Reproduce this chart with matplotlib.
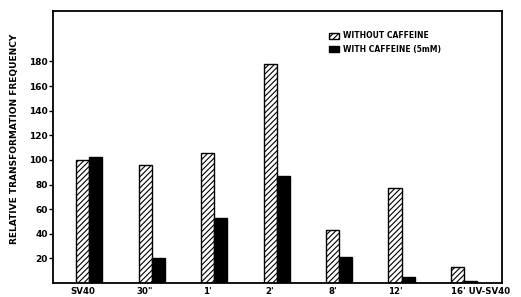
import numpy as np
import matplotlib
matplotlib.use("Agg")
import matplotlib.pyplot as plt

# Werte
groups = ['SV40', '30"', "1'", "2'", "8'", "12'", "16' UV-SV40"]
without_caffeine = [100, 96, 106, 178, 43, 77, 13]
with_caffeine = [102, 20, 53, 87, 21, 5, 1.5]
yticks = [20, 40, 60, 80, 100, 120, 140, 160, 180]

plt.rcParams['hatch.linewidth'] = 0.8
plt.rcParams['font.family'] = 'DejaVu Sans'

fig = plt.figure(figsize=(5.21, 2.97), dpi=100)
ax = fig.add_axes([0.102, 0.047, 0.862, 0.916])

x = np.arange(len(groups))
w = 0.21
ax.bar(x - w / 2, without_caffeine, w, facecolor='white', edgecolor='black',
       hatch='//////', linewidth=1.0, label='WITHOUT CAFFEINE')
ax.bar(x + w / 2, with_caffeine, w, facecolor='black', edgecolor='black',
       linewidth=1.0, label='WITH CAFFEINE (5mM)')

ax.set_xlim(-0.576, 6.61)
ax.set_ylim(0, 221)
ax.set_yticks(yticks)
ax.set_yticklabels([str(v) for v in yticks], fontsize=6.5, fontweight='bold')
ax.tick_params(axis='y', length=3, width=1, pad=1)
ax.set_xticks([])

# Beschriftungen der Gruppen
for i, g in enumerate(groups):
    if i == len(groups) - 1:
        xpos, ha = i - w, 'left'
    else:
        xpos, ha = i - w / 2, 'center'
    ax.annotate(g, xy=(xpos, 0), xycoords=('data', 'axes fraction'),
                xytext=(0, -6), textcoords='offset points',
                ha=ha, va='center', fontsize=6.2, fontweight='bold')

ax.set_ylabel('RELATIVE TRANSFORMATION FREQUENCY', fontsize=6.5,
              fontweight='bold')
ax.yaxis.set_label_coords(-0.077, 0.53)

for s in ax.spines.values():
    s.set_linewidth(1.3)

leg = ax.legend(loc='upper left', bbox_to_anchor=(0.6, 0.95), frameon=False,
                fontsize=5.5, handlelength=1.2, handleheight=0.8,
                labelspacing=0.6, handletextpad=0.6)
for t in leg.get_texts():
    t.set_fontweight('bold')

fig.savefig('out.png', dpi=100)
